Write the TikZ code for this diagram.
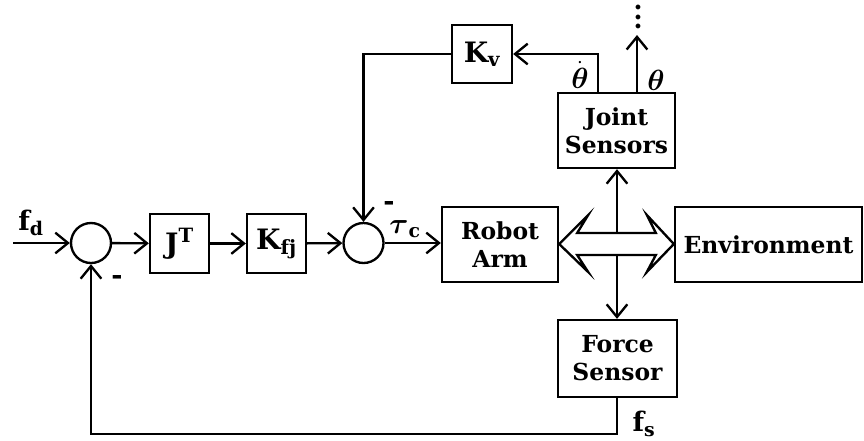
\documentclass[tikz,border=0pt]{standalone}
\usepackage{amsmath}
\usepackage{fontspec}
\setmainfont{DejaVu Serif}
\usetikzlibrary{arrows.meta, positioning, calc}

\begin{document}
\begin{tikzpicture}[
    x=0.03cm, y=-0.03cm,
    every node/.style={font=\bfseries\fontsize{20}{24}\selectfont},
    block/.style={rectangle, draw, line width=2pt, align=center, inner sep=0pt},
    gain/.style={block, minimum width=1.77cm, minimum height=1.77cm, font=\fontsize{24}{26}\selectfont},
    summer/.style={circle, draw, line width=2pt, minimum size=1.2cm, inner sep=0pt},
    arrow/.style={-{Straight Barb[length=3.8mm, width=6.2mm]}, line width=2pt},
    wire/.style={line width=2pt},
    signal/.style={inner sep=0pt, font=\fontsize{23}{26}\selectfont}
]
\useasboundingbox (0,0) rectangle (864,440);

% Forward path
\node[summer] (sumA) at (91,243) {};
\node[gain] (jt) at (179.5,243.5) {$\mathbf{J}^{\mathbf{T}}$};
\node[gain] (kfj) at (276.5,243.5) {$\mathbf{K}_{\mathbf{fj}}$};
\node[summer] (sumB) at (363.5,243) {};
\node[block, minimum width=3.48cm, minimum height=2.25cm] (arm) at (500,244.5) {Robot\\Arm};
\node[block, minimum width=5.61cm, minimum height=2.25cm] (env) at (768.5,244.5) {Environment};

% Sensors and velocity gain
\node[block, minimum width=3.51cm, minimum height=2.25cm] (jsens) at (616.5,130.5) {Joint\\Sensors};
\node[block, minimum width=3.57cm, minimum height=2.31cm] (fsens) at (617.5,358.5) {Force\\Sensor};
\node[gain, minimum width=1.8cm, minimum height=1.74cm] (kv) at (482,54) {$\mathbf{K}_{\mathbf{v}}$};

% Free ends
\coordinate (fin) at (13,243);
\coordinate (contact) at (617,244);
\coordinate (thetaout) at (637,35);
\node[align=center, inner sep=0pt, font=\bfseries\fontsize{22}{8}\selectfont] (dots) at (638,17) {.\\.\\.};

% Signal labels
\node[signal] (fd) at (31,223) {$\mathbf{f}_{\mathbf{d}}$};
\node[signal] (tauc) at (405,229) {$\boldsymbol{\tau}_{\mathbf{c}}$};
\node[signal] (minB) at (389,206) {\textbf{-}};
\node[signal] (minA) at (117,280) {\textbf{-}};
\node[signal] (thd) at (580,75) {$\dot{\boldsymbol{\theta}}$};
\node[signal] (th) at (656,80) {$\boldsymbol{\theta}$};
\node[signal] (fs) at (644,424) {$\mathbf{f}_{\mathbf{s}}$};

% Connectors
\draw[arrow] (fin) -- (sumA.west);
\draw[arrow] (sumA) -- (jt);
\draw[arrow] (jt) -- (kfj);
\draw[arrow] (kfj) -- (sumB);
\draw[arrow] (sumB.east) -- (sumB.east -| arm.west);
\draw[arrow] (jsens.north -| 598,0) |- (kv.east);
\draw[arrow] (kv.west) -| (sumB.north);
\draw[arrow] (jsens.north -| thetaout) -- (thetaout);
\draw[arrow] (contact) -- (jsens.south -| contact);
\draw[arrow] (contact) -- (fsens.north -| contact);
\draw[arrow] (fsens.south -| contact) -- ++(0,36) -| (sumA.south);

% Hollow two-way contact arrow
\draw[wire, fill=white, line join=miter]
    (arm.east |- contact) -- ++(29,-29) -- ++(-11,18) -- ($(env.west |- contact)+(-18,-11)$)
    -- ++(-9,-18) -- (env.west |- contact) -- ++(-27,28) -- ++(9,-17)
    -- ($(arm.east |- contact)+(18,11)$) -- ++(11,17) -- cycle;

\end{tikzpicture}
\end{document}
